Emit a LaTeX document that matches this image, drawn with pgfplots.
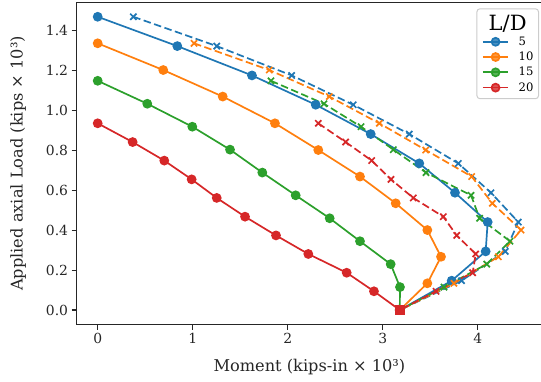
\documentclass[border=0pt]{standalone}
\usepackage{pgfplots}
\pgfplotsset{compat=1.18}
\usepackage{fontspec}
\setmainfont{DejaVu Serif}
\definecolor{tabblue}{HTML}{1F77B4}
\definecolor{taborange}{HTML}{FF7F0E}
\definecolor{tabgreen}{HTML}{2CA02C}
\definecolor{tabred}{HTML}{D62728}
\begin{document}
\begin{tikzpicture}
\useasboundingbox (-76.5pt,-56.3pt) rectangle (464.5pt,324.7pt);
\begin{axis}[
  scale only axis,
  width=465.8pt, height=322.6pt,
  xmin=-0.223, xmax=4.68,
  ymin=-0.0735, ymax=1.5435,
  xtick={0,1,2,3,4},
  ytick={0,0.2,0.4,0.6,0.8,1.0,1.2,1.4},
  yticklabel style={/pgf/number format/fixed,/pgf/number format/fixed zerofill,/pgf/number format/precision=1},
  /pgf/number format/assume math mode=true,
  tick label style={font=\fontsize{13.9}{16}\selectfont, color=black!85},
  label style={font=\fontsize{16.2}{19}\selectfont, color=black!85},
  xlabel={Moment (kips-in × 10³)},
  ylabel={Applied axial Load (kips × 10³)},
  xlabel shift=9pt,
  ylabel shift=13pt,
  tick align=outside,
  tick pos=left,
  major tick length=4.9pt,
  every tick/.style={black!85, line width=1.1pt},
  axis line style={black!85, line width=1.1pt},
  every axis plot/.append style={line width=1.7pt},
  legend style={at={(rel axis cs:1,1)}, anchor=north east, xshift=-3.3pt, yshift=-6.2pt,
    draw=black!20, line width=1pt, rounded corners=3pt, fill=white, fill opacity=0.8, text opacity=1,
    font=\fontsize{11.6}{13}\selectfont, row sep=5.2pt, column sep=9.5pt, inner xsep=5pt, inner ysep=6pt,
    nodes={inner sep=0pt}},
  legend cell align=left,
  legend image code/.code={\draw[mark repeat=2,mark phase=2] plot coordinates {(0pt,0pt) (12.8pt,0pt) (25.6pt,0pt)};},
]
\addlegendimage{empty legend}
\addlegendentry{\hspace*{-30pt}\fontsize{21}{23}\selectfont L/D}
% L/D = 5
\addplot[tabblue, mark=*, mark size=4pt] coordinates {
(0,1.47) (0.838,1.323) (1.624,1.176) (2.295,1.029) (2.874,0.882) (3.385,0.735) (3.761,0.588) (4.105,0.441) (4.084,0.294) (3.726,0.147) (3.18,0)};
\addlegendentry{5}
\addplot[tabblue, dash pattern=on 7.5pt off 3.5pt, mark=x, mark size=4.4pt, mark options={solid}, forget plot] coordinates {
(0.375,1.47) (1.253,1.323) (2.042,1.176) (2.69,1.029) (3.28,0.882) (3.796,0.735) (4.14,0.588) (4.427,0.441) (4.29,0.294) (3.83,0.147) (3.18,0)};
% L/D = 10
\addplot[taborange, mark=*, mark size=4pt] coordinates {
(0,1.337) (0.69,1.203) (1.316,1.070) (1.866,0.936) (2.322,0.802) (2.761,0.669) (3.137,0.535) (3.47,0.401) (3.614,0.267) (3.47,0.134) (3.18,0)};
\addlegendentry{10}
\addplot[taborange, dash pattern=on 7.5pt off 3.5pt, mark=x, mark size=4.4pt, mark options={solid}, forget plot] coordinates {
(1.014,1.337) (1.806,1.203) (2.438,1.070) (2.964,0.936) (3.453,0.802) (3.937,0.669) (4.154,0.535) (4.456,0.401) (4.217,0.267) (3.75,0.134) (3.18,0)};
% L/D = 15
\addplot[tabgreen, mark=*, mark size=4pt] coordinates {
(0,1.149) (0.522,1.034) (0.996,0.919) (1.393,0.804) (1.733,0.689) (2.084,0.575) (2.442,0.460) (2.761,0.345) (3.084,0.230) (3.182,0.115) (3.18,0)};
\addlegendentry{15}
\addplot[tabgreen, dash pattern=on 7.5pt off 3.5pt, mark=x, mark size=4.4pt, mark options={solid}, forget plot] coordinates {
(1.824,1.149) (2.382,1.034) (2.772,0.919) (3.112,0.804) (3.456,0.689) (3.93,0.575) (4.02,0.460) (4.34,0.345) (4.095,0.230) (3.645,0.115) (3.18,0)};
% L/D = 20
\addplot[tabred, mark=*, mark size=4pt] coordinates {
(0,0.936) (0.368,0.842) (0.701,0.749) (0.989,0.655) (1.253,0.562) (1.551,0.468) (1.877,0.374) (2.217,0.281) (2.621,0.187) (2.908,0.094) (3.18,0)};
\addlegendentry{20}
\addplot[tabred, dash pattern=on 7.5pt off 3.5pt, mark=x, mark size=4.4pt, mark options={solid}, forget plot] coordinates {
(2.322,0.936) (2.61,0.842) (2.884,0.749) (3.087,0.655) (3.322,0.562) (3.638,0.468) (3.779,0.374) (3.979,0.281) (3.947,0.187) (3.561,0.094) (3.18,0)};
\addplot[tabred, only marks, mark=square*, mark size=4.2pt, forget plot] coordinates {(3.18,0)};
\end{axis}
\end{tikzpicture}
\end{document}
